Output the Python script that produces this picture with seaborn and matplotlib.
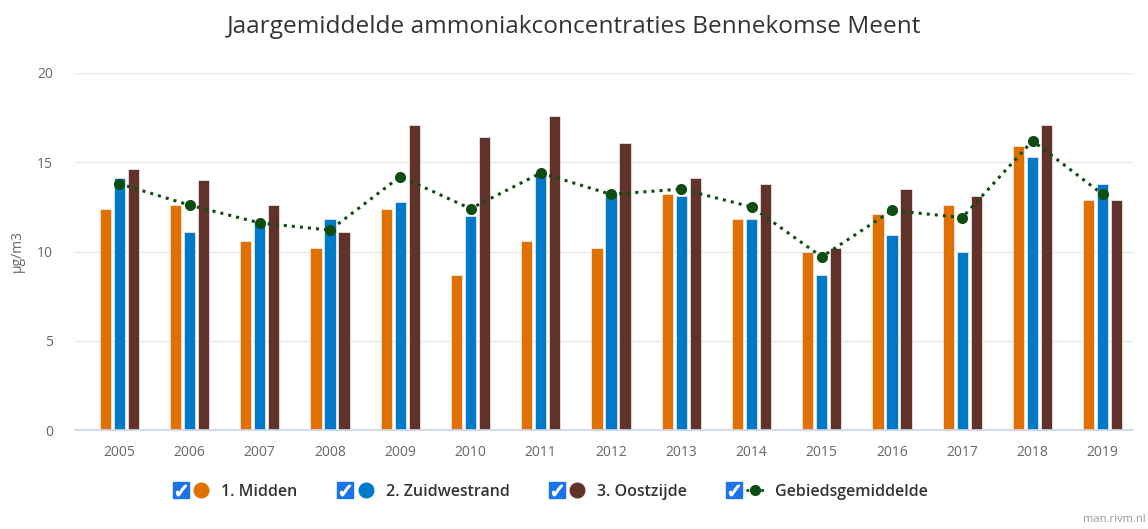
import numpy as np
import pandas as pd
import matplotlib
matplotlib.use("Agg")
import matplotlib.pyplot as plt
import seaborn as sns
from matplotlib.lines import Line2D
from matplotlib.legend_handler import HandlerTuple

# --- data ---
years = ['2005', '2006', '2007', '2008', '2009', '2010', '2011', '2012',
         '2013', '2014', '2015', '2016', '2017', '2018', '2019']
midden = [12.4, 12.6, 10.6, 10.2, 12.4, 8.7, 10.6, 10.2,
          13.2, 11.8, 10.0, 12.1, 12.6, 15.9, 12.9]
zuidwestrand = [14.1, 11.1, 11.6, 11.8, 12.8, 12.0, 14.4, 13.2,
                13.1, 11.8, 8.7, 10.9, 10.0, 15.3, 13.8]
oostzijde = [14.6, 14.0, 12.6, 11.1, 17.1, 16.4, 17.6, 16.1,
             14.1, 13.8, 10.2, 13.5, 13.1, 17.1, 12.9]
gemiddelde = [13.8, 12.6, 11.6, 11.2, 14.2, 12.4, 14.4, 13.2,
              13.5, 12.5, 9.7, 12.3, 11.9, 16.2, 13.2]

series_names = ['1. Midden', '2. Zuidwestrand', '3. Oostzijde']
avg_name = 'Gebiedsgemiddelde'
colors = ['#e07000', '#0079c8', '#61322a']
avg_color = '#0d4d12'

df = pd.DataFrame({
    'jaar': years * 3,
    'waarde': midden + zuidwestrand + oostzijde,
    'locatie': [n for n in series_names for _ in years],
})

# --- styling ---
sns.set_theme(style='white')
plt.rcParams['font.family'] = ['Open Sans', 'DejaVu Sans']

W, H = 1148, 529
fig = plt.figure(figsize=(W / 100, H / 100), dpi=100)
ax = fig.add_axes([75 / W, 1 - 430 / H, (1133 - 75) / W, (430 - 73) / H])

sns.barplot(data=df, x='jaar', y='waarde', hue='locatie', palette=colors,
            saturation=1, width=0.6, gap=0.2, edgecolor='#f2f2f2',
            linewidth=0.5, legend=False, ax=ax)
sns.lineplot(x=np.arange(len(years)), y=gemiddelde, ax=ax, color=avg_color,
             linestyle=':', linewidth=2.2, marker='o', markersize=8,
             markeredgewidth=0, zorder=5)

ax.set_ylim(0, 20)
ax.set_yticks([0, 5, 10, 15, 20])
ax.set_xlim(-0.63, 14.43)
ax.yaxis.grid(True, color='#e6e6e6', linewidth=1)
ax.set_axisbelow(True)
for s in ['top', 'right', 'left']:
    ax.spines[s].set_visible(False)
ax.spines['bottom'].set_color('#ccd6eb')
ax.tick_params(axis='y', length=0, pad=16, labelcolor='#666666', labelsize=10)
ax.tick_params(axis='x', length=8, width=1, color='#ccd6eb', pad=3,
               labelcolor='#666666', labelsize=10)
ax.set_xlabel('')
ax.set_ylabel('µg/m3', color='#666666', fontsize=10)
ax.yaxis.set_label_coords(-0.047, 0.5)

fig.text(0.5, 1 - 27 / H, 'Jaargemiddelde ammoniakconcentraties Bennekomse Meent',
         ha='center', va='center', fontsize=17.6, color='#333333')
fig.text(1083 / W, 1 - 520 / H, 'man.rivm.nl', ha='left', va='center',
         fontsize=8, color='#999999')

# --- legend with checkbox look ---
def checkbox():
    box = Line2D([], [], linestyle='none', marker='s', markersize=11.5,
                 markerfacecolor='#1a73e8', markeredgecolor='#1a73e8')
    tick = Line2D([], [], linestyle='none', marker=r'$\checkmark$',
                  markersize=7.5, color='white')
    return (box, tick)

handles = []
for c in colors:
    dot = Line2D([], [], linestyle='none', marker='o', markersize=10.5,
                 markerfacecolor=c, markeredgecolor=c)
    handles.append((checkbox(), dot))
avg_h = Line2D([], [], color=avg_color, linestyle=':', linewidth=2,
               marker='o', markersize=7)
handles.append((checkbox(), avg_h))

hmap = {h: HandlerTuple(ndivide=None, pad=0.2) for h in handles}
leg = fig.legend(handles, series_names + [avg_name], handler_map=hmap,
                 loc='center', bbox_to_anchor=(0.479, 1 - 492 / H), ncol=4,
                 frameon=False, handlelength=2.4, handletextpad=0.7,
                 columnspacing=2.4, prop={'size': 11.5, 'weight': 'semibold'})
for t in leg.get_texts():
    t.set_color('#333333')

fig.savefig('out.png', dpi=100)
